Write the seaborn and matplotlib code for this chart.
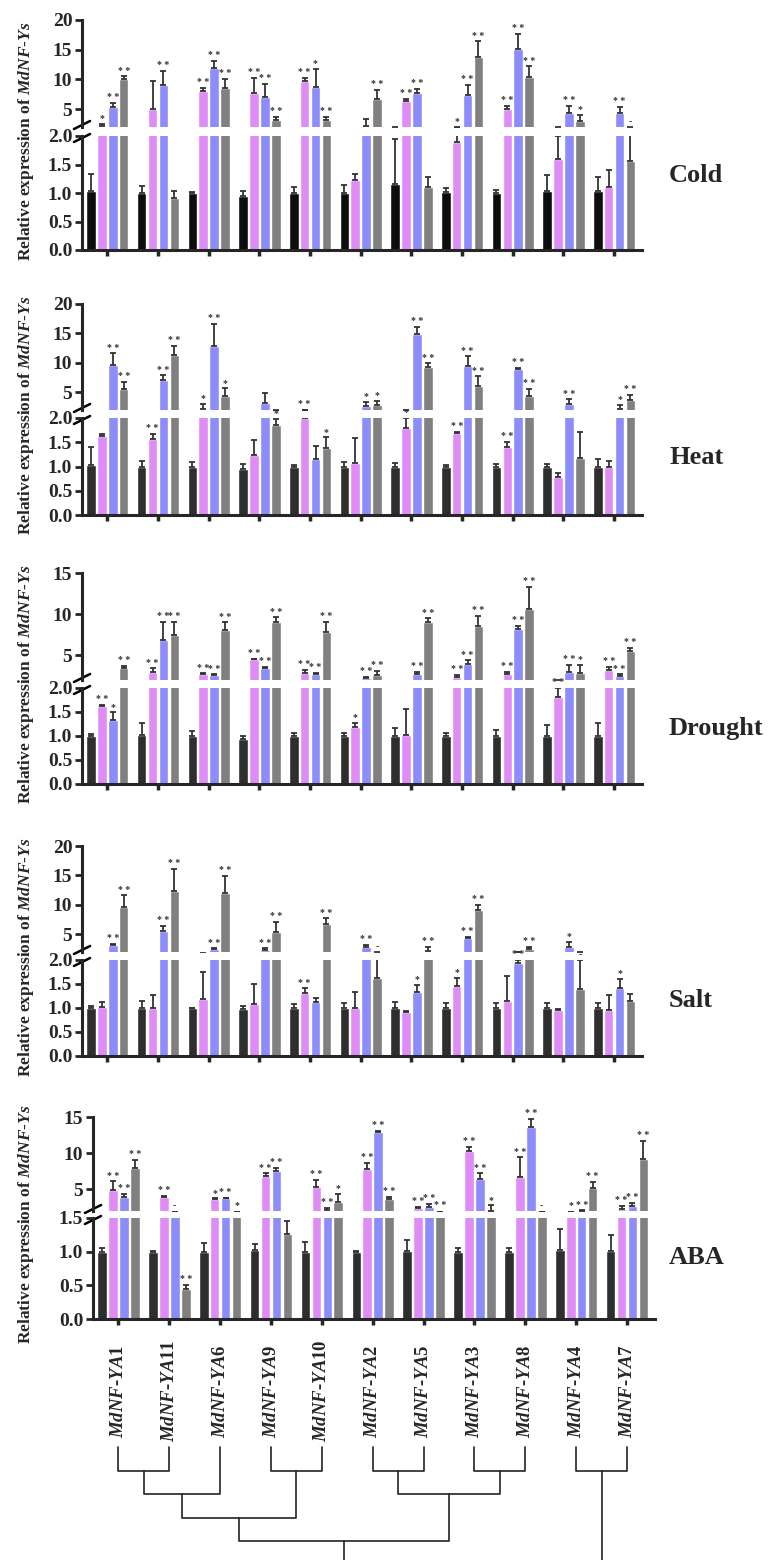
import numpy as np
import pandas as pd
import matplotlib
matplotlib.use("Agg")
import matplotlib.pyplot as plt
import seaborn as sns

genes = ["MdNF-YA1", "MdNF-YA11", "MdNF-YA6", "MdNF-YA9", "MdNF-YA10",
         "MdNF-YA2", "MdNF-YA5", "MdNF-YA3", "MdNF-YA8", "MdNF-YA4", "MdNF-YA7"]
groups = ["CK", "T1", "T2", "T3"]
colors = ["#2e2e2e", "#E08CF6", "#8C8CFA", "#808080"]

# one row per gene: CK, T1, T2, T3
cold_mean = [[1.03, 2.2, 5.4, 10.0], [1.0, 5.0, 9.0, 0.92], [1.0, 8.0, 12.0, 8.5],
             [0.94, 7.7, 7.1, 3.1], [1.0, 9.7, 8.7, 3.2], [1.0, 1.22, 2.2, 6.7],
             [1.16, 6.3, 7.7, 1.1], [1.02, 1.9, 7.4, 13.7], [1.0, 5.0, 15.2, 10.4],
             [1.03, 1.6, 4.3, 3.0], [1.03, 1.1, 4.4, 1.57]]
cold_err = [[0.30, 0.3, 0.7, 0.5], [0.12, 4.7, 2.4, 0.11], [0.02, 0.6, 1.1, 1.6],
            [0.09, 2.6, 2.2, 0.6], [0.10, 0.6, 3.1, 0.5], [0.14, 0.11, 1.1, 1.5],
            [0.78, 0.4, 0.7, 0.18], [0.07, 0.15, 1.7, 2.7], [0.05, 0.6, 2.5, 1.8],
            [0.28, 0.4, 1.3, 1.1], [0.25, 0.3, 1.0, 0.45]]
cold_sig = [["", "*", "**", "**"], ["", "", "**", ""], ["", "**", "**", "**"],
            ["", "**", "**", "**"], ["", "**", "*", "**"], ["", "", "", "**"],
            ["", "**", "**", ""], ["", "*", "**", "**"], ["", "**", "**", "**"],
            ["", "", "**", "*"], ["", "", "**", "-"]]

heat_mean = [[1.03, 1.62, 9.6, 5.6], [1.0, 1.57, 7.1, 11.3], [1.0, 2.2, 12.9, 4.3],
             [0.95, 1.24, 3.2, 1.85], [1.0, 2.0, 1.15, 1.38], [1.0, 1.07, 2.75, 2.9],
             [1.0, 1.79, 14.9, 9.3], [1.0, 1.70, 9.4, 6.0], [1.0, 1.40, 8.9, 4.4],
             [1.0, 0.79, 3.1, 1.17], [1.0, 0.98, 2.2, 3.7]]
heat_err = [[0.38, 0.04, 2.0, 1.2], [0.12, 0.10, 0.8, 1.6], [0.10, 0.8, 3.7, 1.4],
            [0.10, 0.31, 1.7, 0.13], [0.03, 0.05, 0.28, 0.22], [0.10, 0.52, 0.65, 0.7],
            [0.07, 0.21, 1.2, 0.6], [0.03, 0.02, 1.7, 1.7], [0.05, 0.11, 0.3, 1.2],
            [0.05, 0.07, 0.7, 0.54], [0.15, 0.14, 0.7, 0.9]]
heat_sig = [["", "", "**", "**"], ["", "**", "**", "**"], ["", "*", "**", "*"],
            ["", "", "", "*"], ["", "**", "", "*"], ["", "", "*", "*"],
            ["", "*", "**", "**"], ["", "**", "**", "**"], ["", "**", "**", "**"],
            ["", "", "**", ""], ["", "", "*", "**"]]

drought_mean = [[0.99, 1.62, 1.34, 3.4], [1.03, 3.0, 6.9, 7.5], [0.99, 2.7, 2.6, 8.1],
                [0.94, 4.5, 3.4, 9.1], [0.99, 2.8, 2.7, 7.8], [0.99, 1.19, 2.2, 2.6],
                [1.0, 1.03, 2.7, 9.0], [0.99, 2.4, 4.0, 8.6], [1.0, 2.7, 8.2, 10.6],
                [1.01, 1.81, 3.0, 2.9], [1.01, 3.2, 2.5, 5.5]]
drought_err = [[0.05, 0.03, 0.15, 0.3], [0.25, 0.4, 2.2, 1.6], [0.12, 0.1, 0.1, 0.9],
               [0.07, 0.1, 0.2, 0.5], [0.07, 0.4, 0.2, 1.3], [0.07, 0.08, 0.2, 0.5],
               [0.16, 0.54, 0.3, 0.5], [0.07, 0.2, 0.4, 1.2], [0.12, 0.3, 0.4, 2.7],
               [0.21, 0.19, 0.8, 0.9], [0.26, 0.4, 0.2, 0.4]]
drought_sig = [["", "**", "*", "**"], ["", "**", "**", "**"], ["", "**", "**", "**"],
               ["", "**", "**", "**"], ["", "**", "**", "**"], ["", "*", "**", "**"],
               ["", "", "**", "**"], ["", "**", "**", "**"], ["", "**", "**", "**"],
               ["", "**", "**", "*"], ["", "**", "**", "**"]]

salt_mean = [[0.99, 1.03, 3.2, 9.7], [1.0, 0.99, 5.6, 12.4], [1.0, 1.19, 2.5, 12.0],
             [0.98, 1.08, 2.3, 5.4], [0.99, 1.31, 1.12, 6.7], [0.99, 1.01, 2.9, 1.62],
             [0.99, 0.92, 1.34, 2.2], [0.99, 1.46, 4.4, 9.1], [0.99, 1.15, 1.93, 2.5],
             [0.99, 0.96, 2.8, 1.4], [0.99, 0.96, 1.42, 1.15]]
salt_err = [[0.05, 0.10, 0.2, 1.9], [0.15, 0.28, 0.9, 3.7], [0.0, 0.57, 0.1, 2.9],
            [0.06, 0.43, 0.3, 1.7], [0.09, 0.10, 0.08, 1.0], [0.11, 0.33, 0.3, 0.4],
            [0.13, 0.02, 0.14, 0.7], [0.11, 0.17, 0.15, 0.9], [0.12, 0.52, 0.07, 0.4],
            [0.11, 0.01, 0.9, 0.6], [0.11, 0.32, 0.18, 0.14]]
salt_sig = [["", "", "**", "**"], ["", "", "**", "**"], ["", "", "**", "**"],
            ["", "", "**", "**"], ["", "**", "", "**"], ["", "", "**", "-"],
            ["", "", "*", "**"], ["", "*", "**", "**"], ["", "", "**", "**"],
            ["", "", "*", "-"], ["", "", "*", ""]]

aba_mean = [[1.0, 4.9, 4.0, 8.0], [1.0, 3.9, 1.8, 0.45], [1.0, 3.6, 3.75, 1.8],
            [1.03, 6.9, 7.6, 1.26], [1.0, 5.3, 2.15, 3.3], [1.0, 7.8, 12.9, 3.6],
            [1.01, 2.46, 2.6, 1.8], [1.0, 10.3, 6.4, 2.05], [1.0, 6.75, 13.6, 1.8],
            [1.03, 1.8, 2.05, 5.2], [1.01, 2.3, 2.7, 9.2]]
aba_err = [[0.05, 1.2, 0.35, 1.1], [0.01, 0.2, 0.1, 0.06], [0.13, 0.15, 0.1, 0.1],
           [0.09, 0.3, 0.4, 0.19], [0.15, 1.0, 0.25, 1.1], [0.01, 0.9, 0.2, 0.4],
           [0.17, 0.14, 0.4, 0.1], [0.05, 0.6, 0.8, 0.75], [0.05, 2.65, 1.1, 0.1],
           [0.31, 0.1, 0.05, 0.8], [0.24, 0.4, 0.4, 2.5]]
aba_sig = [["", "**", "**", "**"], ["", "**", "-", "**"], ["", "*", "**", "*"],
           ["", "**", "**", ""], ["", "**", "**", "*"], ["", "**", "**", "**"],
           ["", "**", "**", "**"], ["", "**", "**", "*"], ["", "**", "**", "-"],
           ["", "*", "**", "**"], ["", "**", "**", "**"]]

# dendrogram merges: (left node, right node, level); new nodes numbered from 11
merges = [(0, 1, 1), (11, 2, 2), (3, 4, 1), (12, 13, 3), (5, 6, 1), (7, 8, 1),
          (15, 16, 2), (14, 17, 4), (9, 10, 1), (18, 19, 5)]

sns.set_style("ticks")
plt.rcParams["font.family"] = ["Liberation Serif", "DejaVu Serif"]
plt.rcParams["font.weight"] = "bold"
plt.rcParams["mathtext.fontset"] = "custom"
plt.rcParams["mathtext.it"] = "Liberation Serif:italic:bold"
plt.rcParams["mathtext.rm"] = "Liberation Serif:bold"

W, H = 769, 1560
fig = plt.figure(figsize=(W / 100, H / 100), dpi=100)


def box(x0, x1, y0, y1):
    return [x0 / W, 1 - y1 / H, (x1 - x0) / W, (y1 - y0) / H]


def style_axis(ax):
    ax.set_xlim(-0.5, 10.55)
    ax.set_xlabel("")
    ax.set_ylabel("")
    for s in ["top", "right"]:
        ax.spines[s].set_visible(False)
    ax.spines["left"].set_linewidth(2.2)
    ax.spines["bottom"].set_linewidth(2.2)
    ax.tick_params(axis="y", direction="out", length=5, width=2, labelsize=14, pad=2)
    ax.tick_params(axis="x", direction="out", length=4, width=2.5, labelbottom=False)


def panel(xs, ytop, ybot, mean, err, sig, lims, name, black="#2e2e2e"):
    (top_lo, top_hi, top_ticks), (bot_hi, bot_ticks) = lims
    m = np.array(mean)
    e = np.array(err)
    df = pd.DataFrame({"gene": np.repeat(genes, 4), "group": groups * len(genes),
                       "value": m.ravel()})
    pal = [black] + colors[1:]
    ax_t = fig.add_axes(box(xs[0], xs[1], ytop[0], ytop[1]))
    ax_b = fig.add_axes(box(xs[0], xs[1], ybot[0], ybot[1]))
    for ax in (ax_t, ax_b):
        sns.barplot(data=df, x="gene", y="value", hue="group", order=genes,
                    hue_order=groups, palette=pal, width=0.86, gap=0.12,
                    errorbar=None, legend=False, ax=ax, saturation=1)
        bars = list(ax.containers)
        for j, cont in enumerate(bars):
            bx = [b.get_x() + b.get_width() / 2 for b in cont]
            ax.errorbar(bx, m[:, j], yerr=[np.zeros(len(genes)), e[:, j]], fmt="none",
                        ecolor="#333333", elinewidth=1.3, capsize=2.2, capthick=1.3)
        style_axis(ax)
    ax_t.set_ylim(top_lo, top_hi)
    ax_t.set_yticks(top_ticks)
    ax_t.set_yticklabels([str(t) for t in top_ticks], fontweight="bold")
    ax_t.spines["bottom"].set_visible(False)
    ax_t.tick_params(axis="x", length=0)
    ax_b.set_ylim(0, bot_hi)
    ax_b.set_yticks(bot_ticks)
    ax_b.set_yticklabels([f"{t:.1f}" for t in bot_ticks], fontweight="bold")
    # significance marks
    for j, cont in enumerate(ax_b.containers[:4]):
        for i, b in enumerate(cont):
            s = sig[i][j]
            if not s:
                continue
            y = m[i, j] + e[i, j]
            bx = b.get_x() + b.get_width() / 2
            target = ax_b if y <= bot_hi else ax_t
            y = y if y <= bot_hi else max(y, top_lo)
            target.annotate(" ".join(s), (bx, y), xytext=(0, 0.5), textcoords="offset points",
                            ha="center", va="bottom", fontsize=7, color="#333333",
                            annotation_clip=False)
    # break marks
    d = 0.012
    kw = dict(color="black", lw=1.8, clip_on=False)
    hb = ybot[1] - ybot[0]
    ht = ytop[1] - ytop[0]
    ax_b.plot([-d * 1.2, d * 1.2], [1 - 6 / hb, 1 + 2 / hb], transform=ax_b.transAxes, **kw)
    ax_t.plot([-d * 1.2, d * 1.2], [-2 / ht, 6 / ht], transform=ax_t.transAxes, **kw)
    # labels
    yc = (ytop[0] + ybot[1]) / 2 + 6
    fig.text(26 / W, 1 - yc / H, r"Relative expression of $\mathit{MdNF}$-$\mathit{Ys}$",
             rotation=90, ha="center", va="center", fontsize=12.5, fontweight="bold")
    fig.text(669 / W, 1 - (ybot[0] + 40) / H, name, ha="left", va="center",
             fontsize=19, fontweight="bold")
    return ax_t, ax_b


panel((82, 642), (20, 127), (136, 250), cold_mean, cold_err, cold_sig,
      ((2, 20, [5, 10, 15, 20]), (2.0, [0.0, 0.5, 1.0, 1.5, 2.0])), "Cold", black="#0d0d0d")
panel((82, 642), (304, 410), (418, 515), heat_mean, heat_err, heat_sig,
      ((2, 20, [5, 10, 15, 20]), (2.0, [0.0, 0.5, 1.0, 1.5, 2.0])), "Heat")
panel((82, 642), (573, 680), (688, 784), drought_mean, drought_err, drought_sig,
      ((2, 15, [5, 10, 15]), (2.0, [0.0, 0.5, 1.0, 1.5, 2.0])), "Drought")
panel((82, 642), (846, 952), (960, 1056), salt_mean, salt_err, salt_sig,
      ((2, 20, [5, 10, 15, 20]), (2.0, [0.0, 0.5, 1.0, 1.5, 2.0])), "Salt")
panel((93, 655), (1117, 1211), (1218, 1319), aba_mean, aba_err, aba_sig,
      ((2, 15, [5, 10, 15]), (1.5, [0.0, 0.5, 1.0, 1.5])), "ABA")

# gene labels + dendrogram
ax_d = fig.add_axes(box(93, 655, 1330, 1560))
ax_d.set_xlim(-0.5, 10.55)
ax_d.set_ylim((1560 - 1447) / 23.5, -(1447 - 1330) / 23.5)
ax_d.axis("off")
for i, g in enumerate(genes):
    a, b = g.split("-")
    ax_d.text(i, -2.38, rf"$\mathit{{{a}}}$-$\mathit{{{b}}}$", rotation=90,
              ha="center", va="center", fontsize=13.5, fontweight="bold")
pos = {i: (float(i), 0.0) for i in range(len(genes))}
node = len(genes)
for a, b, lev in merges:
    xa, ha_ = pos[a]
    xb, hb_ = pos[b]
    ax_d.plot([xa, xa, xb, xb], [ha_, lev, lev, hb_], color="#222222", lw=1.2)
    pos[node] = ((xa + xb) / 2, lev)
    node += 1

fig.savefig("out.png", dpi=100)
